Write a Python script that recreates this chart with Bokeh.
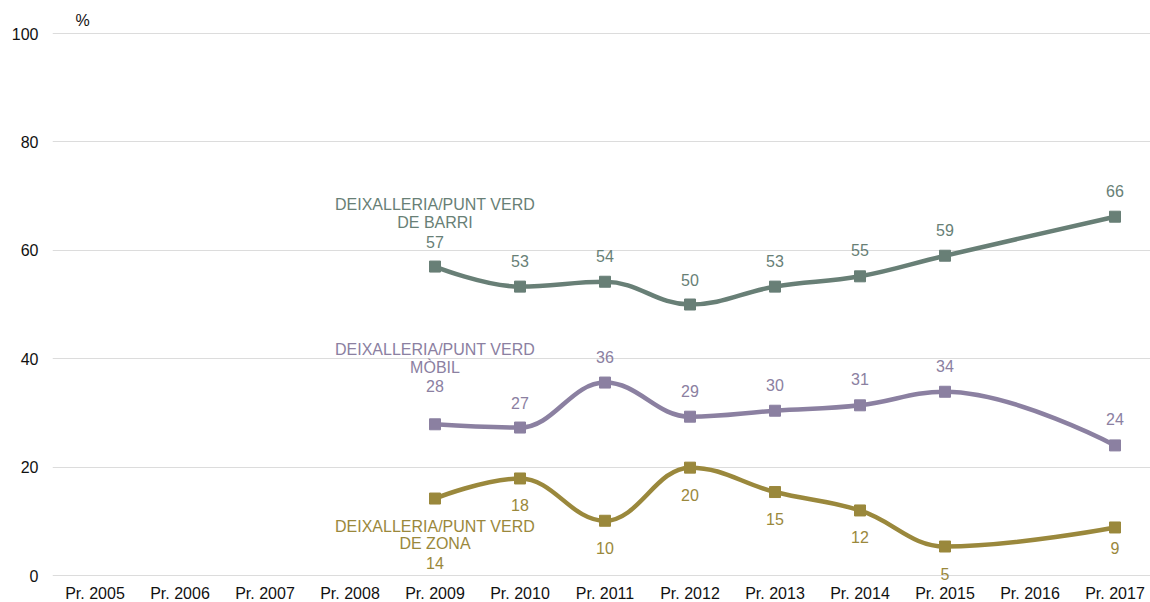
from bokeh.plotting import figure
from bokeh.models import Range1d, FixedTicker, ColumnDataSource
from bokeh.core.properties import value
from bokeh.embed import file_html
from bokeh.resources import INLINE

# ---------------- data ----------------
years = [2005, 2006, 2007, 2008, 2009, 2010, 2011, 2012, 2013, 2014, 2015, 2016, 2017]
year_labels = ["Pr. 2005", "Pr. 2006", "Pr. 2007", "Pr. 2008", "Pr. 2009", "Pr. 2010", "Pr. 2011",
               "Pr. 2012", "Pr. 2013", "Pr. 2014", "Pr. 2015", "Pr. 2016", "Pr. 2017"]
series_years = [2009, 2010, 2011, 2012, 2013, 2014, 2015, 2017]
barri = [57.0, 53.3, 54.2, 50.0, 53.3, 55.2, 59.0, 66.2]
mobil = [27.9, 27.3, 35.6, 29.3, 30.4, 31.4, 33.9, 24.0]
zona = [14.2, 17.9, 10.1, 19.9, 15.4, 12.0, 5.35, 8.86]
name_barri = ["DEIXALLERIA/PUNT VERD", "DE BARRI"]
name_mobil = ["DEIXALLERIA/PUNT VERD", "MÒBIL"]
name_zona = ["DEIXALLERIA/PUNT VERD", "DE ZONA"]
y_ticks = [0, 20, 40, 60, 80, 100]
unit_label = "%"

# ---------------- style ----------------
FONT = "Liberation Sans"
FS = "16px"
C_BARRI = "#687f76"
C_MOBIL = "#8b80a1"
C_ZONA = "#9a883c"
PX_PER_UNIT = 5.42
X_STEP = 85

# label offsets in screen px (negative = above)
off_barri = [-25, -26, -26, -25, -26, -26, -26, -26]
off_mobil = [-38, -25, -26, -26, -26, -26, -26, -26]
off_zona = [64, 27, 27, 27, 27, 27, 27, 21]
name_off_barri = [-62, -44]
name_off_mobil = [-75, -57]
name_off_zona = [28, 45]


def spline(xs, ys, smoothing=1.5):
    n = len(xs)
    denom = smoothing + 1
    lc = [(x, y) for x, y in zip(xs, ys)]
    rc = [(x, y) for x, y in zip(xs, ys)]
    for i in range(1, n - 1):
        x, y = xs[i], ys[i]
        lx, ly = xs[i - 1], ys[i - 1]
        nx, ny = xs[i + 1], ys[i + 1]
        lcx = (smoothing * x + lx) / denom
        lcy = (smoothing * y + ly) / denom
        rcx = (smoothing * x + nx) / denom
        rcy = (smoothing * y + ny) / denom
        corr = 0.0
        if rcx != lcx:
            corr = ((rcy - lcy) * (rcx - x)) / (rcx - lcx) + y - rcy
        lcy += corr
        rcy += corr
        if lcy > ly and lcy > y:
            lcy = max(ly, y)
            rcy = 2 * y - lcy
        elif lcy < ly and lcy < y:
            lcy = min(ly, y)
            rcy = 2 * y - lcy
        if rcy > ny and rcy > y:
            rcy = max(ny, y)
            lcy = 2 * y - rcy
        elif rcy < ny and rcy < y:
            rcy = min(ny, y)
            lcy = 2 * y - rcy
        lc[i] = (lcx, lcy)
        rc[i] = (rcx, rcy)
    d = dict(x0=[], y0=[], x1=[], y1=[], cx0=[], cy0=[], cx1=[], cy1=[])
    for i in range(n - 1):
        d["x0"].append(xs[i]); d["y0"].append(ys[i])
        d["x1"].append(xs[i + 1]); d["y1"].append(ys[i + 1])
        d["cx0"].append(rc[i][0]); d["cy0"].append(rc[i][1])
        d["cx1"].append(lc[i + 1][0]); d["cy1"].append(lc[i + 1][1])
    return d


y_lo = -7 / PX_PER_UNIT
y_hi = 100 + 2 / PX_PER_UNIT
p = figure(frame_width=1098, frame_height=551, output_backend="svg", toolbar_location=None,
           x_range=Range1d(2004.5, 2004.5 + 1098 / X_STEP), y_range=Range1d(y_lo, y_hi),
           min_border_left=52, min_border_right=0, min_border_top=31, min_border_bottom=0,
           title=unit_label)
p.outline_line_color = None
p.background_fill_color = "white"
p.border_fill_color = "white"
p.title.text_font = FONT
p.title.text_font_size = FS
p.title.text_font_style = "normal"
p.title.text_color = "#111111"
p.title.align = "left"
p.title.offset = 23
p.title.standoff = 6

p.xgrid.grid_line_color = None
p.ygrid.grid_line_color = "#dcdcdc"
p.ygrid.grid_line_width = 1
p.yaxis.ticker = FixedTicker(ticks=y_ticks)
p.xaxis.ticker = FixedTicker(ticks=years)
p.xaxis.major_label_overrides = {y: l for y, l in zip(years, year_labels)}
for ax in (p.xaxis[0], p.yaxis[0]):
    ax.axis_line_color = None
    ax.major_tick_line_color = None
    ax.minor_tick_line_color = None
    ax.major_tick_out = 0
    ax.major_tick_in = 0
    ax.major_label_text_font = FONT
    ax.major_label_text_font_size = FS
    ax.major_label_text_color = "#111111"
p.yaxis.major_label_standoff = 14
p.xaxis.major_label_standoff = 2

for vals, color, offs, names, name_offs in [
    (barri, C_BARRI, off_barri, name_barri, name_off_barri),
    (mobil, C_MOBIL, off_mobil, name_mobil, name_off_mobil),
    (zona, C_ZONA, off_zona, name_zona, name_off_zona),
]:
    seg = ColumnDataSource(spline(series_years, vals))
    p.bezier(x0="x0", y0="y0", x1="x1", y1="y1", cx0="cx0", cy0="cy0", cx1="cx1", cy1="cy1",
             source=seg, line_color=color, line_width=4.5, line_cap="round")
    p.scatter(series_years, vals, marker="square", size=11, fill_color=color, line_color=color)
    src = ColumnDataSource(dict(x=series_years, y=vals, t=[str(round(v)) for v in vals], off=offs))
    p.text(x="x", y="y", text="t", y_offset="off", source=src, text_color=color,
           text_font=value(FONT), text_font_size=FS, text_align="center", text_baseline="middle")
    nsrc = ColumnDataSource(dict(x=[series_years[0]] * len(names), y=[vals[0]] * len(names),
                                 t=names, off=name_offs))
    p.text(x="x", y="y", text="t", y_offset="off", source=nsrc, text_color=color,
           text_font=value(FONT), text_font_size=FS, text_align="center", text_baseline="middle")

open("out.html", "w").write(file_html(p, INLINE))
